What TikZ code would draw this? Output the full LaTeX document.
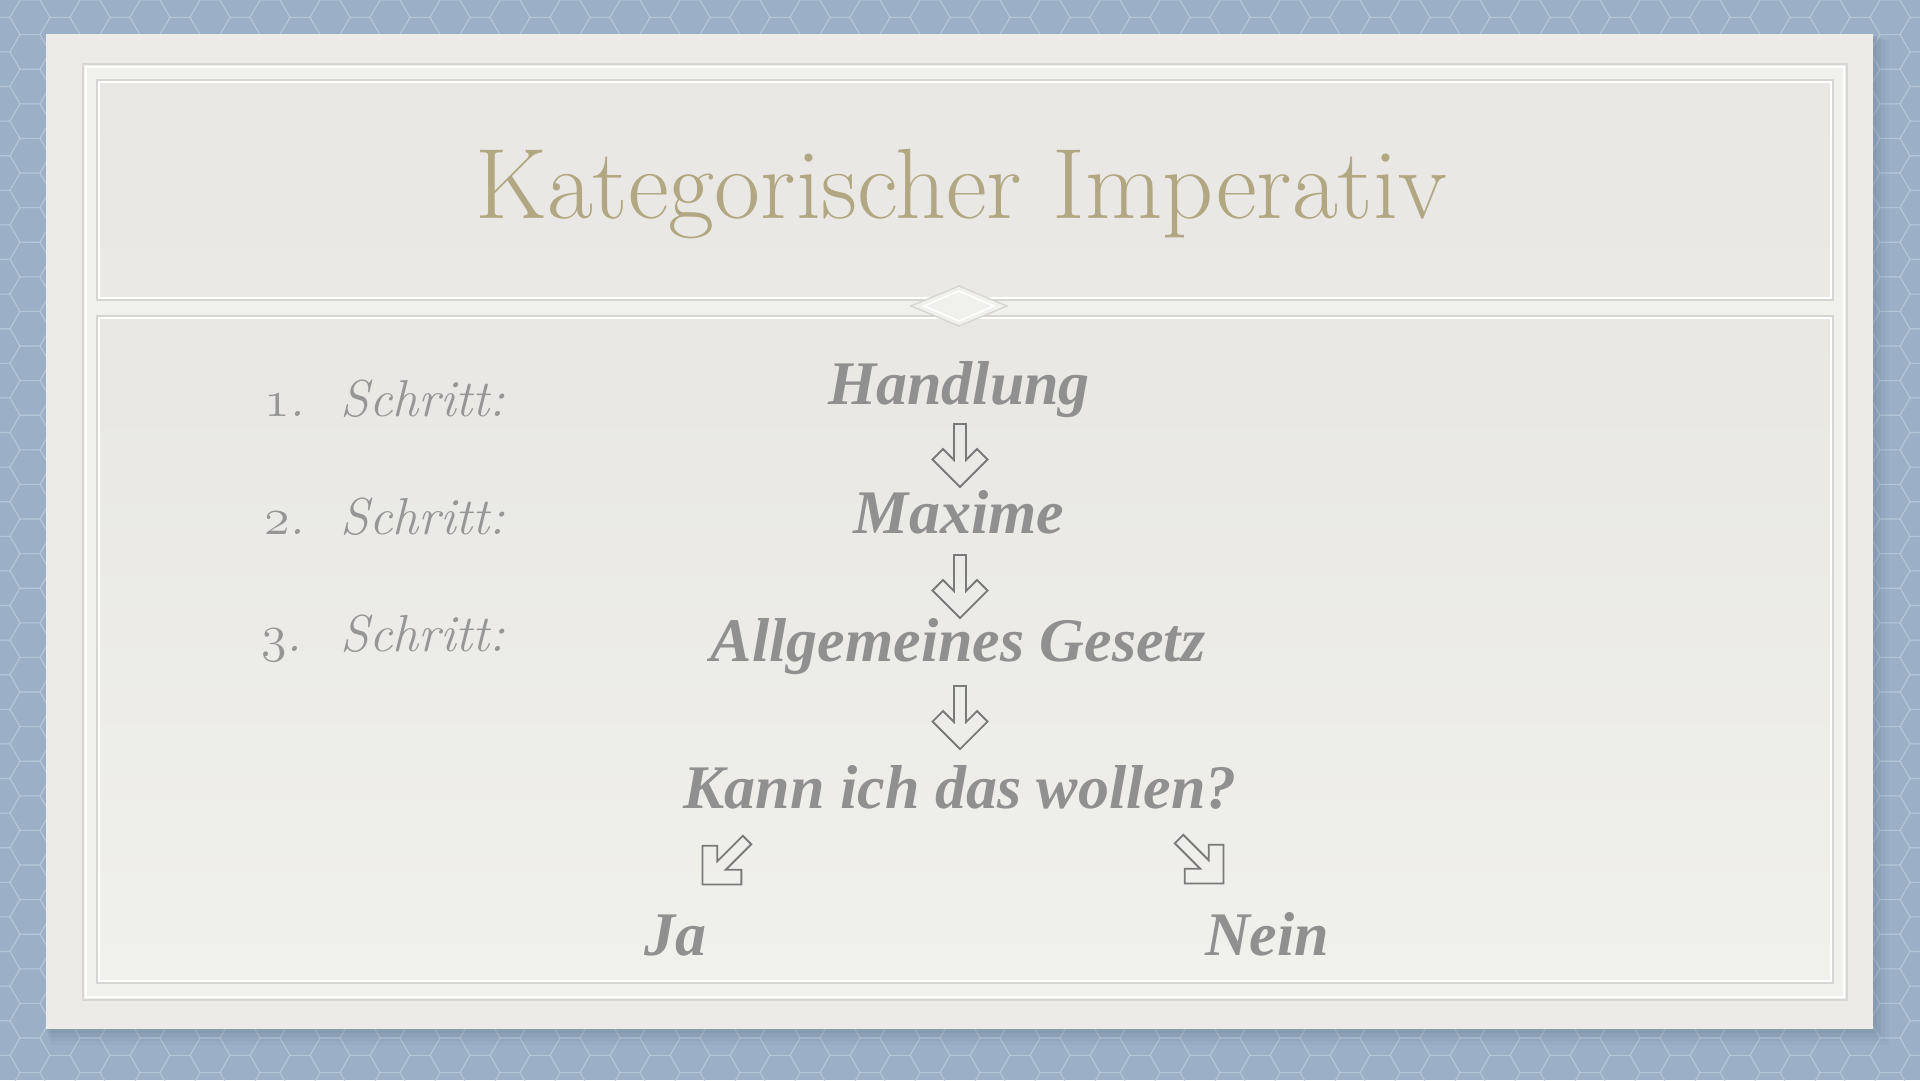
\documentclass[tikz,border=0pt]{standalone}
\usepackage{fontspec}
\usepackage{graphicx}
\newfontfamily\cfont{Liberation Serif}
\usetikzlibrary{calc}
\newcommand\oldnum[1]{\scalebox{2.09}{\fontsize{24.88}{30}\usefont{OML}{cmm}{m}{it}#1}}
\definecolor{bgblue}{RGB}{155,175,198}
\definecolor{bgline}{RGB}{188,204,221}
\definecolor{shadowblue}{RGB}{95,112,135}
\definecolor{cardcol}{RGB}{236,235,231}
\definecolor{bandcol}{RGB}{240,240,237}
\definecolor{edgegray}{RGB}{214,213,209}
\definecolor{paneltop}{RGB}{232,231,227}
\definecolor{panelmid}{RGB}{234,233,229}
\definecolor{panelbot}{RGB}{240,240,237}
\definecolor{titletan}{RGB}{178,167,131}
\definecolor{txtgray}{RGB}{144,144,144}
\definecolor{stepgray}{RGB}{150,150,150}
\definecolor{arrowgray}{RGB}{122,122,122}
\tikzset{
  centertext/.style={anchor=base, text=txtgray, font=\fontsize{62}{66}\cfont\bfseries\itshape},
  steptext/.style={anchor=base west, text=stepgray, font=\fontsize{52}{60}\selectfont\itshape},
  arrowstyle/.style={draw=arrowgray, line width=1.8pt, line join=miter},
  blockarrow/.pic={\draw[arrowstyle] (-6,0) -- (6,0) -- (6,36) -- (17,25) -- (27.5,35.5) -- (0,63) -- (-27.5,35.5) -- (-17,25) -- (-6,36) -- cycle;},
  embossline/.style={draw=edgegray, line width=1.4pt},
  whiteline/.style={draw=white, line width=1.6pt}
}
\begin{document}
\begin{tikzpicture}[x=1pt,y=-1pt]
\useasboundingbox (0,0) rectangle (1920,1080);
% background
\fill[bgblue] (0,0) rectangle (1920,1080);
\foreach \i in {0,...,64} {
  \foreach \j in {0,...,32} {
    \pgfmathsetmacro{\cx}{\i*30}
    \pgfmathsetmacro{\cy}{\j*34.6 + mod(\i,2)*17.3}
    \draw[bgline, line width=1.1pt, opacity=0.55] (\cx+20,\cy) -- (\cx+10,\cy+17.3) -- (\cx-10,\cy+17.3) -- (\cx-20,\cy) -- (\cx-10,\cy-17.3) -- (\cx+10,\cy-17.3) -- cycle;
  }
}
% card shadow
\foreach \d/\o in {16/0.06,12/0.08,8/0.10,4/0.12} {
  \fill[shadowblue, opacity=\o] (46+\d*0.3,34+\d*0.4) rectangle (1873+\d,1029+\d);
}
% card
\fill[cardcol] (46,34) rectangle (1873,1029);
% frame band
\fill[bandcol] (83,64) rectangle (1847,1000);
\draw[embossline] (83,64) rectangle (1847,1000);
\draw[whiteline] (86,67) rectangle (1844,997);
% header panel
\shade[top color=paneltop, bottom color=panelmid] (97,80) rectangle (1833,300);
\draw[embossline] (97,80) rectangle (1833,300);
\draw[whiteline] (99,82) rectangle (1831,298);
% content panel
\shade[top color=paneltop, bottom color=panelbot] (97,316) rectangle (1833,983);
\draw[embossline] (97,316) rectangle (1833,983);
\draw[whiteline] (99,318) rectangle (1831,981);
% diamond ornament
\draw[embossline, fill=bandcol] (911,306) -- (959,286) -- (1007,306) -- (959,326) -- cycle;
\draw[whiteline] (924,306) -- (959,291) -- (994,306) -- (959,321) -- cycle;
% title
\node[anchor=base, text=titletan, font=\fontsize{100}{110}\selectfont] (title) at (961,218) {Kategorischer Imperativ};
% steps
\node[steptext] (n1) at (261,416) {\oldnum{1}.};
\node[steptext] (s1) at (337,416) {Schritt:};
\node[steptext] (n2) at (261,534) {\oldnum{2}.};
\node[steptext] (s2) at (337,534) {Schritt:};
\node[steptext] (n3) at (258,651) {\oldnum{3}.};
\node[steptext] (s3) at (337,651) {Schritt:};
% centre column
\node[centertext] (handlung) at (959,404) {Handlung};
\node[centertext] (maxime) at (959,533) {Maxime};
\node[centertext] (gesetz) at (958,661) {Allgemeines Gesetz};
\node[centertext] (frage) at (960,808) {Kann ich das wollen?};
\node[centertext] (ja) at (675,955) {Ja};
\node[centertext] (nein) at (1267,955) {Nein};
% arrows
\pic at ($(handlung.base)+(1,20)$) {blockarrow};
\pic at ($(maxime.base)+(1,22)$) {blockarrow};
\pic at ($(gesetz.base)+(2,25)$) {blockarrow};
\pic[rotate=-45] at ($(frage.base)+(-213,32)$) {blockarrow};
\pic[rotate=45] at ($(frage.base)+(219,31)$) {blockarrow};
\end{tikzpicture}
\end{document}
